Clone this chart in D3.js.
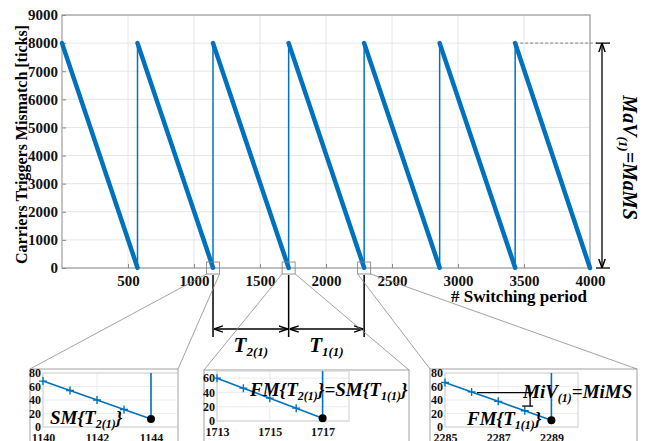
<!DOCTYPE html>
<html>
<head>
<meta charset="utf-8">
<script src="https://cdn.jsdelivr.net/npm/d3@7"></script>
<style>
  body { margin: 0; background: #fff; }
  svg { display: block; }
</style>
</head>
<body>
<svg id="chart"></svg>
<script>
// main sawtooth: counter reset points and the trough it reaches before each reset
const resetPeriods = [0, 572, 1144, 1717, 2289, 2861, 3433]
const troughPeriods = [572, 1144, 1717, 2289, 2861, 3433, 4000]
const troughValues = [10, 12, 4, 10, 10, 10, 0]
const peakValue = 8000
const xTicks = [500, 1000, 1500, 2000, 2500, 3000, 3500, 4000]
const yTicks = [0, 1000, 2000, 3000, 4000, 5000, 6000, 7000, 8000, 9000]

// zoomed insets around three troughs
const inset1Periods = [1140, 1141, 1142, 1143, 1144]
const inset1Values = [68, 54, 40, 26, 12]
const inset2Periods = [1713, 1714, 1715, 1716, 1717]
const inset2Values = [60, 46, 32, 18, 4]
const inset3Periods = [2285, 2286, 2287, 2288, 2289]
const inset3Values = [66, 52, 38, 24, 10]
const miVBracket = [51, 31]

const width = 649
const height = 441
const serif = "'Liberation Serif', 'Times New Roman', serif"
const blue = '#0072BD'

const svg = d3.select('#chart')
    .attr('width', width)
    .attr('height', height)
    .style('font-family', serif)

svg.append('defs').append('marker')
    .attr('id', 'arr')
    .attr('viewBox', '0 0 10 10')
    .attr('refX', 10).attr('refY', 5)
    .attr('markerWidth', 7).attr('markerHeight', 7)
    .attr('orient', 'auto-start-reverse')
    .append('path')
    .attr('d', 'M0,1.5 L10,5 L0,8.5')
    .attr('fill', 'none')
    .attr('stroke', '#000')
    .attr('stroke-width', 1.6)

// rich text helper: parts = [[text, size, dy]]
const rich = (sel, parts) => {
    parts.forEach(([t, s, dy]) => {
        sel.append('tspan').text(t).attr('font-size', s).attr('dy', dy || 0)
    })
    return sel
}

// ---------- main plot ----------
const x = d3.scaleLinear().domain([0, 4000]).range([62, 590])
const y = d3.scaleLinear().domain([0, 9000]).range([268, 15])

const grid = svg.append('g').attr('stroke', '#e6e6e6').attr('stroke-width', 1)
grid.selectAll('.gx').data(xTicks).join('line')
    .attr('x1', d => x(d)).attr('x2', d => x(d))
    .attr('y1', y(0)).attr('y2', y(9000))
grid.selectAll('.gy').data(yTicks).join('line')
    .attr('x1', x(0)).attr('x2', x(4000))
    .attr('y1', d => y(d)).attr('y2', d => y(d))

const xAxis = svg.append('g')
    .attr('transform', `translate(0,${y(0)})`)
    .call(d3.axisBottom(x).tickValues(xTicks).tickSizeInner(-4).tickSizeOuter(0).tickPadding(7).tickFormat(d3.format('d')))
const yAxis = svg.append('g')
    .attr('transform', `translate(${x(0)},0)`)
    .call(d3.axisLeft(y).tickValues(yTicks).tickSizeInner(-4).tickSizeOuter(0).tickPadding(4).tickFormat(d3.format('d')))
;[xAxis, yAxis].forEach(a => {
    a.select('.domain').remove()
    a.selectAll('line').attr('stroke', '#888')
    a.selectAll('text')
        .attr('fill', '#111')
        .style('font-family', serif)
        .style('font-weight', 'bold')
        .style('font-size', '15px')
})

svg.append('rect')
    .attr('x', x(0)).attr('y', y(9000))
    .attr('width', x(4000) - x(0)).attr('height', y(0) - y(9000))
    .attr('fill', 'none').attr('stroke', '#8c8c8c').attr('stroke-width', 1)

// descending ramps (dense, thick) and resets (thin)
svg.append('g').selectAll('line').data(resetPeriods).join('line')
    .attr('x1', d => x(d)).attr('y1', y(peakValue))
    .attr('x2', (d, i) => x(troughPeriods[i])).attr('y2', (d, i) => y(troughValues[i]))
    .attr('stroke', blue).attr('stroke-width', 4.5).attr('stroke-linecap', 'round')
svg.append('g').selectAll('line').data(troughPeriods.slice(0, -1)).join('line')
    .attr('x1', d => x(d)).attr('x2', d => x(d))
    .attr('y1', (d, i) => y(troughValues[i])).attr('y2', y(peakValue))
    .attr('stroke', blue).attr('stroke-width', 1.5)

svg.append('text')
    .attr('transform', `translate(27,${(y(0) + y(9000)) / 2 + 3}) rotate(-90)`)
    .attr('text-anchor', 'middle')
    .attr('font-size', 16).attr('font-weight', 'bold')
    .text('Carriers Triggers Mismatch [ticks]')

svg.append('text')
    .attr('x', 587).attr('y', 302)
    .attr('text-anchor', 'end')
    .attr('font-size', 17).attr('font-weight', 'bold')
    .text('# Switching period')

// MaV annotation
const lastReset = resetPeriods[resetPeriods.length - 1]
svg.append('line')
    .attr('x1', x(lastReset)).attr('x2', 597)
    .attr('y1', y(peakValue)).attr('y2', y(peakValue))
    .attr('stroke', '#666').attr('stroke-width', 0.8).attr('stroke-dasharray', '3,2')
;[peakValue, 0].forEach(v => {
    svg.append('line')
        .attr('x1', 596).attr('x2', 610)
        .attr('y1', y(v)).attr('y2', y(v))
        .attr('stroke', '#000').attr('stroke-width', 1.3)
})
svg.append('line')
    .attr('x1', 602).attr('x2', 602)
    .attr('y1', y(peakValue)).attr('y2', y(0))
    .attr('stroke', '#000').attr('stroke-width', 1.3)
    .attr('marker-start', 'url(#arr)').attr('marker-end', 'url(#arr)')

rich(svg.append('text')
    .attr('transform', `translate(623,${(y(peakValue) + y(0)) / 2 + 2}) rotate(90)`)
    .attr('text-anchor', 'middle')
    .attr('font-weight', 'bold').attr('font-style', 'italic'),
    [['MaV', 20], ['(1)', 13, 4], ['=MaMS', 20, -4]])

// ---------- zoom boxes, period markers ----------
const zoomTroughs = [troughPeriods[1], troughPeriods[2], troughPeriods[3]]
svg.append('g').selectAll('rect').data(zoomTroughs).join('rect')
    .attr('x', d => x(d) - 6.5).attr('y', y(0) - 6)
    .attr('width', 13).attr('height', 12)
    .attr('fill', 'none').attr('stroke', '#888').attr('stroke-width', 0.9)

svg.append('g').selectAll('line').data(zoomTroughs).join('line')
    .attr('x1', d => x(d)).attr('x2', d => x(d))
    .attr('y1', 275).attr('y2', 337)
    .attr('stroke', '#000').attr('stroke-width', 1.5)
for (let i = 0; i < 2; i++) {
    svg.append('line')
        .attr('x1', x(zoomTroughs[i]) + 1).attr('x2', x(zoomTroughs[i + 1]) - 1)
        .attr('y1', 329).attr('y2', 329)
        .attr('stroke', '#000').attr('stroke-width', 1.3)
        .attr('marker-start', 'url(#arr)').attr('marker-end', 'url(#arr)')
}
const tLabels = [['2(1)'], ['1(1)']]
tLabels.forEach(([sub], i) => {
    rich(svg.append('text')
        .attr('x', (x(zoomTroughs[i]) + x(zoomTroughs[i + 1])) / 2)
        .attr('y', 352)
        .attr('text-anchor', 'middle')
        .attr('font-weight', 'bold').attr('font-style', 'italic'),
        [['T', 21], [sub, 13, 4]])
})

// ---------- insets ----------
const insets = [
    {frame: [30, 178, 369], box: [43, 178, 373, 427], xd: [1140, 1145], yd: [0, 80],
     yt: [0, 20, 40, 60, 80], xt: [1140, 1142, 1144], px: inset1Periods, pv: inset1Values},
    {frame: [204, 409, 370], box: [217, 349, 371, 421], xd: [1713, 1718], yd: [0, 70],
     yt: [0, 20, 40, 60], xt: [1713, 1715, 1717], px: inset2Periods, pv: inset2Values},
    {frame: [430, 637, 369], box: [445, 578, 373, 427], xd: [2285, 2290], yd: [0, 80],
     yt: [0, 20, 40, 60, 80], xt: [2285, 2287, 2289], px: inset3Periods, pv: inset3Values}
]

// connector lines from zoom boxes to inset frames
insets.forEach((ins, i) => {
    const cx = x(zoomTroughs[i])
    const g = svg.append('g').attr('stroke', '#8a8a8a').attr('stroke-width', 0.8)
    g.append('line').attr('x1', cx - 6.5).attr('y1', y(0) + 6).attr('x2', ins.frame[0]).attr('y2', ins.frame[2])
    g.append('line').attr('x1', cx + 6.5).attr('y1', y(0) + 6).attr('x2', ins.frame[1]).attr('y2', ins.frame[2])
})

const insetScales = insets.map(ins => {
    const [l, r, t, b] = ins.box
    const ix = d3.scaleLinear().domain(ins.xd).range([l, r])
    const iy = d3.scaleLinear().domain(ins.yd).range([b, t])
    const g = svg.append('g')

    g.append('rect')
        .attr('x', ins.frame[0]).attr('y', ins.frame[2])
        .attr('width', ins.frame[1] - ins.frame[0]).attr('height', 100)
        .attr('fill', '#fff').attr('stroke', '#8a8a8a').attr('stroke-width', 0.8)

    g.selectAll('.gx').data(ins.xt).join('line')
        .attr('x1', d => ix(d)).attr('x2', d => ix(d)).attr('y1', t).attr('y2', b)
        .attr('stroke', '#ececec')
    g.selectAll('.gy').data(ins.yt).join('line')
        .attr('x1', l).attr('x2', r).attr('y1', d => iy(d)).attr('y2', d => iy(d))
        .attr('stroke', '#ececec')
    g.append('rect')
        .attr('x', l).attr('y', t).attr('width', r - l).attr('height', b - t)
        .attr('fill', 'none').attr('stroke', '#d0d0d0')

    const ax = g.append('g').attr('transform', `translate(0,${b})`)
        .call(d3.axisBottom(ix).tickValues(ins.xt).tickSize(0).tickPadding(6).tickFormat(d3.format('d')))
    const ay = g.append('g').attr('transform', `translate(${l},0)`)
        .call(d3.axisLeft(iy).tickValues(ins.yt).tickSize(0).tickPadding(2))
    ;[ax, ay].forEach(a => {
        a.select('.domain').remove()
        a.selectAll('text')
            .attr('fill', '#111')
            .style('font-family', serif)
            .style('font-weight', 'bold')
            .style('font-size', '12px')
    })

    const last = ins.px.length - 1
    g.append('line')
        .attr('x1', ix(ins.px[last])).attr('x2', ix(ins.px[last]))
        .attr('y1', iy(ins.pv[last])).attr('y2', t)
        .attr('stroke', blue).attr('stroke-width', 1.6)
    g.append('path')
        .datum(ins.px.map((p, k) => [p, ins.pv[k]]))
        .attr('d', d3.line().x(d => ix(d[0])).y(d => iy(d[1])))
        .attr('fill', 'none').attr('stroke', blue).attr('stroke-width', 1.6)
    g.selectAll('.plus').data(ins.px.slice(0, last)).join('path')
        .attr('d', (p, k) => `M${ix(p) - 4},${iy(ins.pv[k])}h8M${ix(p)},${iy(ins.pv[k]) - 4}v8`)
        .attr('stroke', blue).attr('stroke-width', 1.4)
    g.append('circle')
        .attr('cx', ix(ins.px[last])).attr('cy', iy(ins.pv[last])).attr('r', 4)
        .attr('fill', '#000')
    return {ix, iy, g}
})

const bi = sel => sel.attr('font-weight', 'bold').attr('font-style', 'italic')

rich(bi(insetScales[0].g.append('text').attr('x', 50).attr('y', 424)),
    [['SM{T', 19], ['2(1)', 12, 4], ['}', 19, -4]])

rich(bi(insetScales[1].g.append('text').attr('x', 250).attr('y', 396)),
    [['FM{T', 19], ['2(1)', 12, 4], ['}=SM{T', 19, -4], ['1(1)', 12, 4], ['}', 19, -4]])

rich(bi(insetScales[2].g.append('text').attr('x', 467).attr('y', 425)),
    [['FM{T', 19], ['1(1)', 12, 4], ['}', 19, -4]])
rich(bi(insetScales[2].g.append('text').attr('x', 523).attr('y', 398)),
    [['MiV', 19], ['(1)', 12, 4], ['=MiMS', 19, -4]])

// MiV bracket
{
    const {ix, iy, g} = insetScales[2]
    const bx = ix(2288.2)
    g.append('line').attr('x1', ix(2286.2)).attr('x2', bx + 3)
        .attr('y1', iy(miVBracket[0])).attr('y2', iy(miVBracket[0]))
        .attr('stroke', '#000').attr('stroke-width', 1.3)
    g.append('line').attr('x1', bx - 8).attr('x2', bx + 3)
        .attr('y1', iy(miVBracket[1])).attr('y2', iy(miVBracket[1]))
        .attr('stroke', '#000').attr('stroke-width', 1.3)
    g.append('line').attr('x1', bx).attr('x2', bx)
        .attr('y1', iy(miVBracket[0])).attr('y2', iy(miVBracket[1]))
        .attr('stroke', '#000').attr('stroke-width', 1.3)
}
</script>
</body>
</html>
